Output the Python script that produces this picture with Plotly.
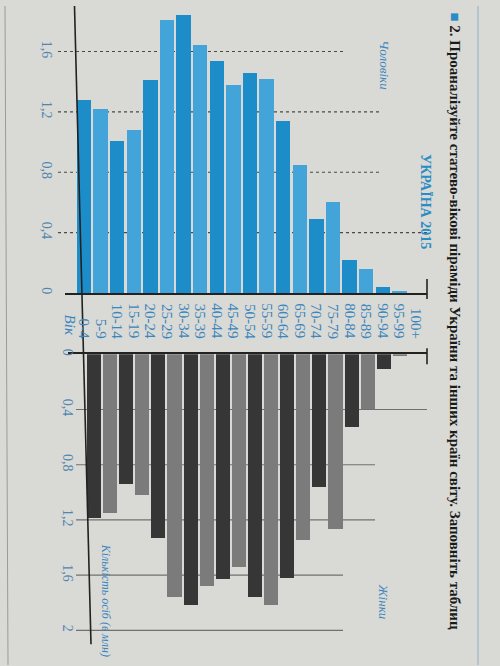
import plotly.graph_objects as go

W, H = 500, 666

age_groups = ["0-4", "5-9", "10-14", "15-19", "20-24", "25-29", "30-34", "35-39",
              "40-44", "45-49", "50-54", "55-59", "60-64", "65-69", "70-74", "75-79",
              "80-84", "85-89", "90-94", "95-99", "100+"]
male_mln = [1.28, 1.22, 1.01, 1.08, 1.41, 1.81, 1.84, 1.64, 1.54, 1.38, 1.46, 1.42,
            1.14, 0.85, 0.49, 0.60, 0.22, 0.16, 0.04, 0.01, 0.0]
female_mln = [1.19, 1.15, 0.94, 1.02, 1.33, 1.76, 1.82, 1.68, 1.63, 1.54, 1.76, 1.82,
              1.62, 1.35, 0.96, 1.27, 0.53, 0.40, 0.11, 0.01, 0.0]
male_ticks = [0, 0.4, 0.8, 1.2, 1.6]
male_tick_text = ["0", "0,4", "0,8", "1,2", "1,6"]
female_ticks = [0, 0.4, 0.8, 1.2, 1.6, 2]
female_tick_text = ["0", "0,4", "0,8", "1,2", "1,6", "2"]

title_text = "УКРАЇНА 2015"
header_text = "2. Проаналізуйте статево-вікові піраміди України та інших країн світу. Заповніть таблиц"

# styles
BG = "#d9d9d5"
MALE_COLORS = ["#1c8dc9", "#42a4d8"]
FEMALE_COLORS = ["#363636", "#7b7b7b"]
TICK_BLUE = "#4f86b0"
LABEL_BLUE = "#3a86bd"
SERIF = "Liberation Serif, Times New Roman, serif"

def px_x(p):
    return p / W

def px_y(p):
    return (H - p) / H

n = len(age_groups)
male_cols = [MALE_COLORS[i % 2] for i in range(n)]
female_cols = [FEMALE_COLORS[i % 2] for i in range(n)]

fig = go.Figure()
fig.add_trace(go.Bar(x=age_groups, y=male_mln, marker=dict(color=male_cols, line=dict(width=0)),
                     width=0.86, xaxis="x", yaxis="y", showlegend=False, hoverinfo="x+y"))
fig.add_trace(go.Bar(x=age_groups, y=female_mln, marker=dict(color=female_cols, line=dict(width=0)),
                     width=0.88, xaxis="x2", yaxis="y2", showlegend=False, hoverinfo="x+y"))

# panel geometry (pixels)
m_zero, m_unit = 290.0, 152.5
f_zero, f_unit = 352.0, 139.5
m_c0, m_pitch = 84.0, 16.6
f_c0, f_pitch = 94.0, 16.1
mx0, mx1 = 65.0, 427.0
fx0, fx1 = 68.0, 427.0

fig.update_layout(
    width=W, height=H,
    margin=dict(l=0, r=0, t=0, b=0),
    paper_bgcolor=BG, plot_bgcolor="rgba(0,0,0,0)",
    bargap=0,
    xaxis=dict(domain=[px_x(mx0), px_x(mx1)],
               range=[(mx0 - m_c0) / m_pitch, (mx1 - m_c0) / m_pitch],
               type="category", showticklabels=False, showgrid=False, zeroline=False,
               showline=True, linecolor="#222", linewidth=1.6, anchor="y", side="bottom",
               fixedrange=True),
    yaxis=dict(domain=[px_y(m_zero), 1],
               range=[0, m_zero / m_unit],
               tickvals=male_ticks, ticktext=male_tick_text, tickangle=90,
               tickfont=dict(family=SERIF, size=14, color=TICK_BLUE),
               ticks="", ticklabelstandoff=8,
               showgrid=False, zeroline=False, showline=False, anchor="x", fixedrange=True),
    xaxis2=dict(domain=[px_x(fx0), px_x(fx1)],
                range=[(fx0 - f_c0) / f_pitch, (fx1 - f_c0) / f_pitch],
                type="category", showticklabels=False, showgrid=False, zeroline=False,
                showline=True, linecolor="#222", linewidth=1.6, anchor="y2", side="top",
                fixedrange=True),
    yaxis2=dict(domain=[0, px_y(f_zero)],
                range=[(H - f_zero) / f_unit, 0],
                tickvals=female_ticks, ticktext=female_tick_text, tickangle=90,
                tickfont=dict(family=SERIF, size=14, color=TICK_BLUE),
                ticks="", ticklabelstandoff=0,
                showgrid=False, zeroline=False, showline=False,
                anchor="free", position=px_x(77), overlaying=None, fixedrange=True),
)

shapes = []
male_grid_end = [None, 427, 380, 380, 345]
for v, e in zip(male_ticks, male_grid_end):
    if e is None:
        continue
    shapes.append(dict(type="line", xref="paper", yref="y", x0=px_x(58), x1=px_x(e), y0=v, y1=v,
                       line=dict(color="#4a4a4a", width=1.2, dash="dot"), layer="below"))
female_grid_end = [None, 427, 375, 375, 343, 343]
for v, e in zip(female_ticks, female_grid_end):
    if e is None:
        continue
    shapes.append(dict(type="line", xref="paper", yref="y2", x0=px_x(76), x1=px_x(e), y0=v, y1=v,
                       line=dict(color="#707070", width=1.2), layer="below"))
shapes.append(dict(type="line", xref="paper", yref="paper", x0=px_x(74.5), y0=1, x1=px_x(91), y1=px_y(645),
                   line=dict(color="#222", width=1.6)))
shapes.append(dict(type="line", xref="paper", yref="paper", x0=px_x(427), x1=px_x(427),
                   y0=px_y(276), y1=px_y(296), line=dict(color="#222", width=1.6)))
shapes.append(dict(type="line", xref="paper", yref="paper", x0=px_x(427), x1=px_x(427),
                   y0=px_y(346), y1=px_y(362), line=dict(color="#222", width=1.6)))
shapes.append(dict(type="line", xref="paper", yref="paper", x0=px_x(478), x1=px_x(478), y0=0, y1=1,
                   line=dict(color="#a9bccb", width=1.5)))
shapes.append(dict(type="line", xref="paper", yref="paper", x0=px_x(5), x1=px_x(8), y0=1, y1=0,
                   line=dict(color="#9a9a9a", width=1)))
fig.update_layout(shapes=shapes)

ann = []
for g in age_groups:
    ann.append(dict(x=g, xref="x", y=px_y(338), yref="paper", text=g, showarrow=False,
                    textangle=90, xanchor="center", yanchor="bottom",
                    font=dict(family=SERIF, size=15, color=LABEL_BLUE)))
ann.append(dict(x=px_x(70), y=px_y(322), xref="paper", yref="paper", text="<i>Вік</i>",
                showarrow=False, textangle=90, xanchor="center", yanchor="middle",
                font=dict(family=SERIF, size=15, color=LABEL_BLUE)))
ann.append(dict(x=px_x(425), y=px_y(197), xref="paper", yref="paper", text="<b>" + title_text + "</b>",
                showarrow=False, textangle=90, xanchor="center", yanchor="middle",
                font=dict(family=SERIF, size=14, color="#2a8cc4")))
ann.append(dict(x=px_x(385), y=px_y(60), xref="paper", yref="paper", text="<i>Чоловіки</i>",
                showarrow=False, textangle=90, xanchor="center", yanchor="middle",
                font=dict(family=SERIF, size=13, color=LABEL_BLUE)))
ann.append(dict(x=px_x(383), y=px_y(602), xref="paper", yref="paper", text="<i>Жінки</i>",
                showarrow=False, textangle=90, xanchor="center", yanchor="middle",
                font=dict(family=SERIF, size=13, color=LABEL_BLUE)))
ann.append(dict(x=px_x(106), y=px_y(541), xref="paper", yref="paper", text="<i>Кількість осіб (в млн)</i>",
                showarrow=False, textangle=90, xanchor="center", yanchor="top",
                font=dict(family=SERIF, size=12, color=LABEL_BLUE)))
ann.append(dict(x=px_x(455), y=px_y(4), xref="paper", yref="paper",
                text="<b><span style='color:#2a8cc4'>■</span> " + header_text + "</b>",
                showarrow=False, textangle=90, xanchor="center", yanchor="top",
                font=dict(family=SERIF, size=15, color="#1a1a1a")))
fig.update_layout(annotations=ann)

fig.write_html("out.html", config={"displayModeBar": False},
               post_script="document.body.style.margin='0';document.body.style.padding='0';")
